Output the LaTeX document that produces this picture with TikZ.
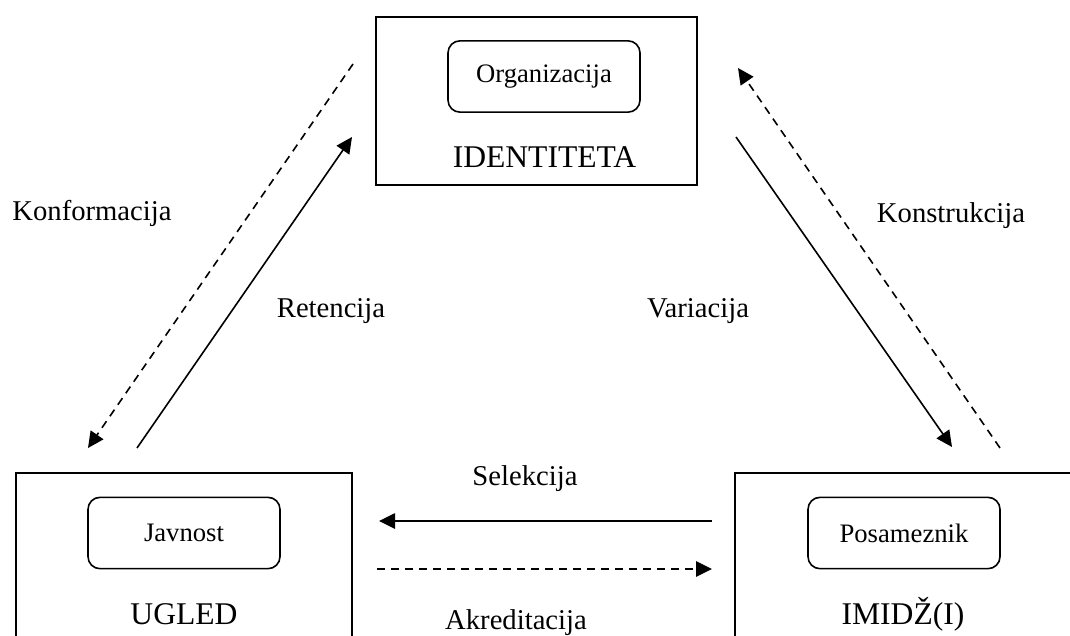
\documentclass[tikz,border=0pt]{standalone}
\usepackage{fontspec}
\setmainfont{Liberation Serif}
\usetikzlibrary{arrows.meta}
\begin{document}
\begin{tikzpicture}[x=0.75pt,y=-0.75pt,
  outerbox/.style={draw,line width=1.5pt,rectangle,inner sep=0pt},
  innerbox/.style={draw,line width=1.2pt,rectangle,rounded corners=9pt,inner sep=0pt,
    minimum width=144pt,minimum height=53.5pt,font=\fontsize{20}{24}\selectfont},
  title/.style={anchor=base,inner sep=0pt,font=\fontsize{23.7}{28}\selectfont},
  lbl/.style={anchor=base,inner sep=0pt,font=\fontsize{21.5}{26}\selectfont},
  flow/.style={line width=1.2pt,-{Triangle[length=12pt,width=11.5pt]}},
  flowdash/.style={flow,dash pattern=on 6pt off 4.5pt}]
\useasboundingbox (0,0) rectangle (1070,635);
\clip (0,0) rectangle (1070,635);

% boxes
\node[outerbox,minimum width=240.75pt,minimum height=126pt] (ident) at (536.5,101) {};
\node[innerbox] (org) at (544,76.5) {Organizacija};
\node[title] (identt) at (544.5,167) {IDENTITETA};

\node[outerbox,minimum width=252pt,minimum height=140.25pt] (ugled) at (184,566.5) {};
\node[innerbox] (jav) at (184,533) {Javnost};
\node[title] (ugledt) at (184,624) {UGLED};

\node[outerbox,minimum width=252pt,minimum height=140.25pt] (imidz) at (903,566.5) {};
\node[innerbox] (pos) at (904,533) {Posameznik};
\node[title] (imidzt) at (903,624) {IMIDŽ(I)};

% connector end points
\coordinate (konfA) at (353,64);
\coordinate (konfB) at (88,448);
\coordinate (retA) at (137,448);
\coordinate (retB) at (352,137);
\coordinate (varA) at (736,137);
\coordinate (varB) at (952,447);
\coordinate (konsA) at (1000,448);
\coordinate (konsB) at (738,68);
\coordinate (selA) at (712,521);
\coordinate (selB) at (379,521);
\coordinate (akrA) at (377,569);
\coordinate (akrB) at (712,569);

\draw[flowdash] (konfA) -- (konfB);
\draw[flow] (retA) -- (retB);
\draw[flow] (varA) -- (varB);
\draw[flowdash] (konsA) -- (konsB);
\draw[flow] (selA) -- (selB);
\draw[flowdash] (akrA) -- (akrB);

% labels
\node[lbl] (lkonf) at (92,220) {Konformacija};
\node[lbl] (lkons) at (951,222) {Konstrukcija};
\node[lbl] (lret) at (331,317) {Retencija};
\node[lbl] (lvar) at (698,317) {Variacija};
\node[lbl] (lsel) at (525,485) {Selekcija};
\node[lbl] (lakr) at (516,629) {Akreditacija};
\end{tikzpicture}
\end{document}
